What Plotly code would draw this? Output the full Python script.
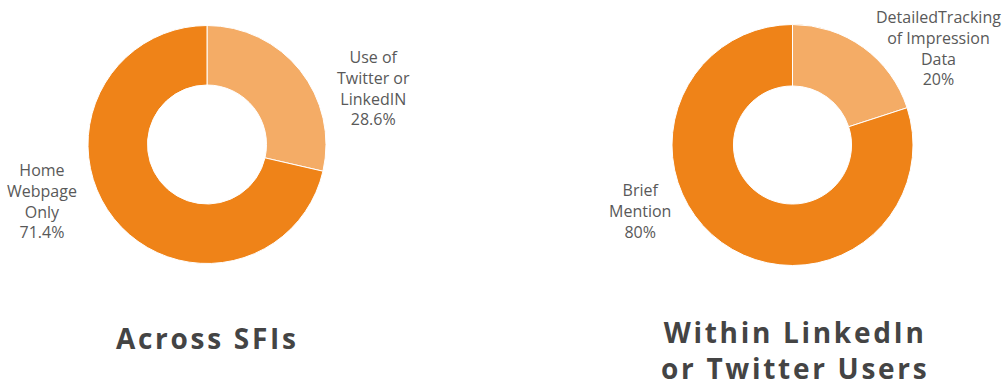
import plotly.graph_objects as go

W, H = 1003, 386

# Data
left_labels = ["Use of<br>Twitter or<br>LinkedIN", "Home<br>Webpage<br>Only"]
left_values = [28.6, 71.4]
right_labels = ["DetailedTracking<br>of Impression<br>Data", "Brief<br>Mention"]
right_values = [20, 80]
titles = [["Across SFIs"], ["Within LinkedIn", "or Twitter Users"]]

colors = ["#F4AC66", "#EF8318"]
text_color = "#444444"
label_color = "#595959"


def px_dom(x0, x1, y0, y1):
    return dict(x=[x0 / W, x1 / W], y=[1 - y1 / H, 1 - y0 / H])


fig = go.Figure()
fig.add_trace(go.Pie(
    labels=left_labels, values=left_values, hole=0.5, sort=False,
    direction="clockwise", rotation=0, textinfo="none",
    marker=dict(colors=colors, line=dict(color="white", width=1)),
    domain=px_dom(88, 326, 25.5, 263.5), showlegend=False,
))
fig.add_trace(go.Pie(
    labels=right_labels, values=right_values, hole=0.49, sort=False,
    direction="clockwise", rotation=0, textinfo="none",
    marker=dict(colors=colors, line=dict(color="white", width=1)),
    domain=px_dom(672, 913, 24.5, 265.5), showlegend=False,
))


def fmt(v):
    return f"{v:g}%"


label_pos = [
    (left_labels[0], left_values[0], 373, 88),
    (left_labels[1], left_values[1], 42, 201),
    (right_labels[0], right_values[0], 938, 48),
    (right_labels[1], right_values[1], 640, 211),
]
annotations = []
for lab, val, x, y in label_pos:
    annotations.append(dict(
        text=f"{lab}<br>{fmt(val)}", x=x / W, y=1 - y / H, xref="paper", yref="paper",
        showarrow=False, xanchor="center", yanchor="middle", align="center",
        font=dict(family="Open Sans", size=16, color=label_color),
    ))


def spaced(lines):
    return "<br>".join(
        f'<span style="letter-spacing:2.7px"><b>{ln}</b></span>' for ln in lines
    )


annotations.append(dict(
    text=spaced(titles[0]), x=207 / W, y=1 - 338 / H, xref="paper", yref="paper",
    showarrow=False, xanchor="center", yanchor="middle",
    font=dict(family="Open Sans", size=28, color=text_color),
))
annotations.append(dict(
    text=spaced(titles[1]), x=795 / W, y=1 - 350 / H, xref="paper", yref="paper",
    showarrow=False, xanchor="center", yanchor="middle", align="center",
    font=dict(family="Open Sans", size=28, color=text_color),
))

fig.update_layout(
    width=W, height=H, margin=dict(l=0, r=0, t=0, b=0),
    paper_bgcolor="white", plot_bgcolor="white",
    annotations=annotations,
)
fig.write_html("out.html")
